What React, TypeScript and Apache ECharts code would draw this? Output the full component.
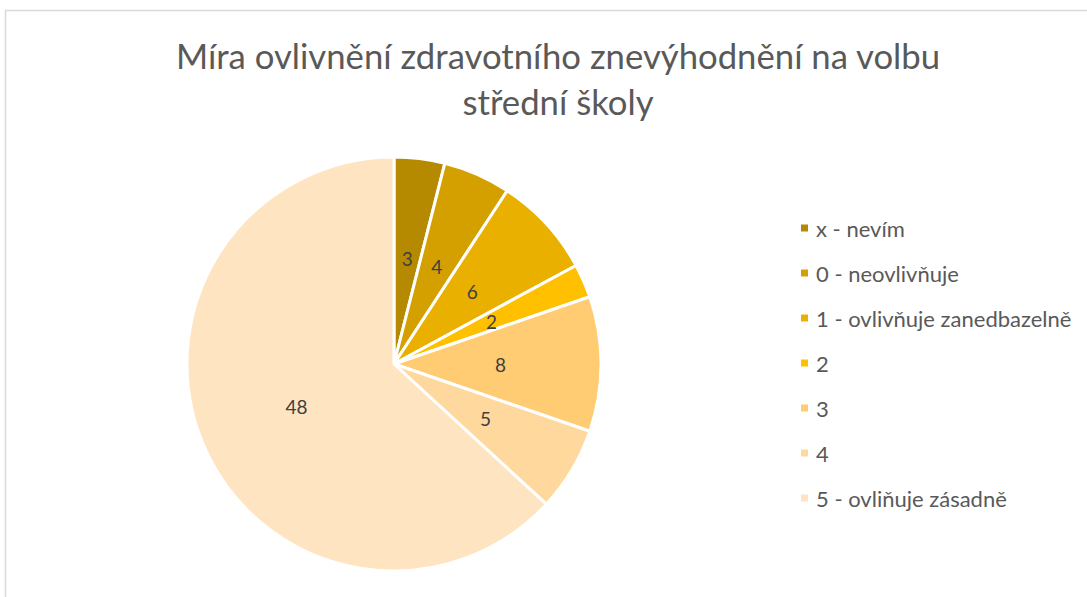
import React, { useEffect, useRef } from "react";
import * as echarts from "echarts";

const categories = [
  "x - nevím",
  "0 - neovlivňuje",
  "1 - ovlivňuje zanedbazelně",
  "2",
  "3",
  "4",
  "5 - ovliňuje zásadně",
];
const values = [3, 4, 6, 2, 8, 5, 48];
const colors = ["#B58900", "#D4A000", "#EAB000", "#FFC000", "#FFCC73", "#FFD89E", "#FFE4C2"];
const titleText = "Míra ovlivnění zdravotního znevýhodnění na volbu\nstřední školy";

export default function App() {
  const ref = useRef<HTMLDivElement>(null);
  useEffect(() => {
    document.body.style.margin = "0";
    const chart = echarts.init(ref.current!, null, { renderer: "svg" });
    chart.setOption({
      animation: false,
      backgroundColor: "#ffffff",
      title: {
        text: titleText,
        left: 553,
        top: 27,
        textAlign: "center",
        textStyle: {
          fontFamily: "Lato",
          fontSize: 34.7,
          fontWeight: "normal",
          color: "#595959",
          lineHeight: 46,
        },
      },
      legend: {
        orient: "vertical",
        left: 794,
        top: 212,
        icon: "rect",
        itemWidth: 9,
        itemHeight: 9,
        itemGap: 23,
        textStyle: { fontFamily: "Lato", fontSize: 22, color: "#595959", padding: [0, 0, 0, 2] },
        data: categories,
      },
      graphic: [
        {
          type: "rect",
          shape: { x: 5.5, y: 10.5, width: 1100, height: 600 },
          style: { fill: "none", stroke: "#D9D9D9", lineWidth: 1.5 },
          silent: true,
        },
      ],
      series: [
        {
          type: "pie",
          center: [394, 364],
          radius: [0, 207],
          startAngle: 90,
          clockwise: true,
          avoidLabelOverlap: false,
          itemStyle: { borderColor: "#ffffff", borderWidth: 3 },
          label: {
            show: true,
            position: "inside",
            formatter: "{c}",
            fontFamily: "Lato",
            fontSize: 19,
            color: "#404040",
          },
          labelLine: { show: false },
          data: categories.map((name, i) => ({
            name,
            value: values[i],
            itemStyle: { color: colors[i] },
          })),
        },
      ],
    });
    return () => chart.dispose();
  }, []);
  return (
    <div
      ref={ref}
      style={{ position: "absolute", left: 0, top: 0, width: 1087, height: 597 }}
    />
  );
}
